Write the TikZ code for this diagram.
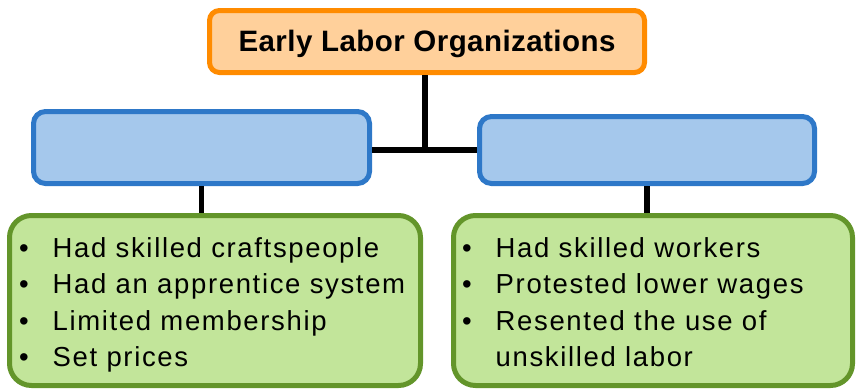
\documentclass[tikz,border=0pt]{standalone}
\usepackage{fontspec}
\setmainfont{Liberation Sans}
\newfontfamily\bodyfont[LetterSpace=6]{Liberation Sans}
\newfontfamily\titlefont[LetterSpace=1.5]{Liberation Sans}
\definecolor{orangefill}{HTML}{FFD09B}
\definecolor{orangeline}{HTML}{FF8B00}
\definecolor{bluefill}{HTML}{A5C8EC}
\definecolor{blueline}{HTML}{2E78C8}
\definecolor{greenfill}{HTML}{C2E59A}
\definecolor{greenline}{HTML}{63952A}
\tikzset{
  box/.style={draw, line width=5pt, inner sep=0pt, rounded corners=#1},
  titlebox/.style={box=10pt, draw=orangeline, fill=orangefill, minimum width=435pt, minimum height=62pt},
  catbox/.style={box=12pt, draw=blueline, fill=bluefill},
  listbox/.style={box=22pt, draw=greenline, fill=greenfill, minimum height=170pt},
  link/.style={line width=5.5pt, black},
  listtext/.style={inner sep=0pt, anchor=base west, align=left}
}
\newcommand{\bul}{\makebox[33.5pt][l]{\textbullet}}
\begin{document}
\begin{tikzpicture}[x=1pt,y=-1pt]
\useasboundingbox (0,0) rectangle (856,389);
\node[titlebox] (top) at (427,41.5) {};
\node[inner sep=0pt, anchor=base] (toptext) at (427,51.7) {\titlefont\fontsize{29.5}{34}\selectfont\bfseries Early Labor Organizations};
\node[catbox, minimum width=336pt, minimum height=72pt] (lb) at (201.5,147.5) {};
\node[catbox, minimum width=335pt, minimum height=67pt] (rb) at (647,150) {};
\node[listbox, minimum width=411pt] (lg) at (215,300.5) {};
\node[listbox, minimum width=399pt] (rg) at (653,300.5) {};
\coordinate (j) at (425,150);
\draw[link] (j |- top.south) -- (j);
\draw[link] (lb.east |- j) -- (rb.west |- j);
\draw[link] (lb.south) -- (lb.south |- lg.north);
\draw[link] (rb.south) -- (rb.south |- rg.north);
\node[listtext] (lt) at (19,257) {\bodyfont\fontsize{27.5}{36.5}\selectfont
\begin{tabular}[t]{@{}l@{}l@{}}
\bul & Had skilled craftspeople\\
\bul & Had an apprentice system\\
\bul & Limited membership\\
\bul & Set prices
\end{tabular}};
\node[listtext] (rt) at (462,257) {\bodyfont\fontsize{27.5}{36.5}\selectfont
\begin{tabular}[t]{@{}l@{}l@{}}
\bul & Had skilled workers\\
\bul & Protested lower wages\\
\bul & Resented the use of\\
 & unskilled labor
\end{tabular}};
\end{tikzpicture}
\end{document}
